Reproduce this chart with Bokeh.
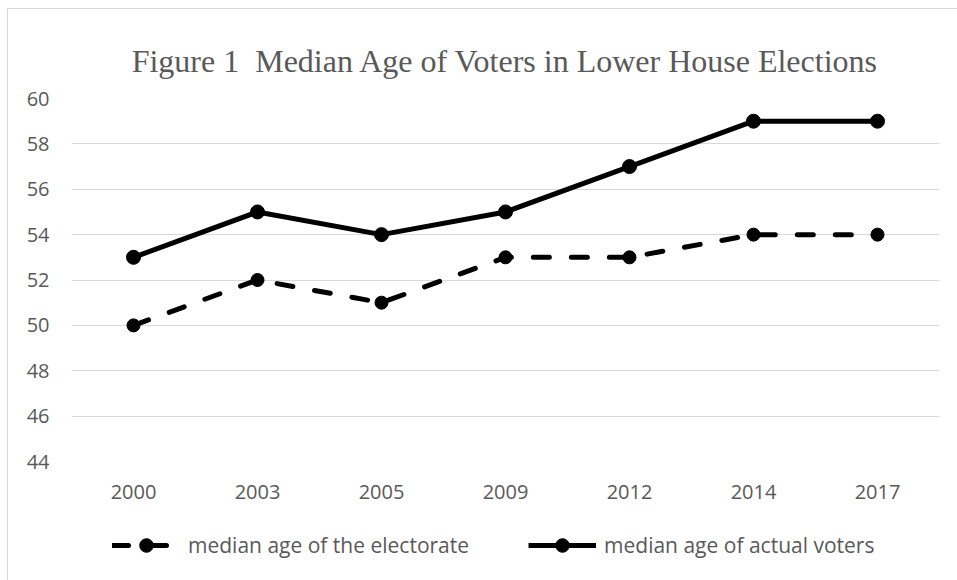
from bokeh.plotting import figure
from bokeh.layouts import column
from bokeh.models import Legend, LegendItem, Title, FactorRange, FixedTicker
from bokeh.embed import file_html
from bokeh.resources import INLINE

years = ["2000", "2003", "2005", "2009", "2012", "2014", "2017"]
electorate = [50, 52, 51, 53, 53, 54, 54]
actual_voters = [53, 55, 54, 55, 57, 59, 59]
y_ticks = [44, 46, 48, 50, 52, 54, 56, 58, 60]
title_text = "Figure 1\u00a0\u00a0Median Age of Voters in Lower House Elections"
labels = ["median age of the electorate", "median age of actual voters"]

TEXT = "#595959"
GRID = "#d9d9d9"

DASHED = dict(line_color="black", line_width=5, line_dash="16 22", line_cap="round", line_join="round")
SOLID = dict(line_color="black", line_width=5, line_join="round")

# ---------------- main chart ----------------
p = figure(
    width=949, height=511,
    x_range=FactorRange(*years, range_padding=0),
    y_range=(44, 60),
    output_backend="svg", toolbar_location=None,
    min_border_left=63, min_border_right=18,
    min_border_top=89, min_border_bottom=59,
)
p.outline_line_color = None
p.xgrid.grid_line_color = None
p.ygrid.grid_line_color = GRID
p.ygrid.grid_line_width = 1

p.yaxis.ticker = FixedTicker(ticks=y_ticks)
for ax in (p.xaxis, p.yaxis):
    ax.axis_line_color = None
    ax.major_tick_line_color = None
    ax.minor_tick_line_color = None
    ax.major_tick_out = 0
    ax.major_tick_in = 0
    ax.major_label_text_font = "Open Sans"
    ax.major_label_text_font_size = "20px"
    ax.major_label_text_color = TEXT
p.yaxis.major_label_standoff = 22
p.xaxis.major_label_standoff = 23

p.line(years, electorate, **DASHED)
p.scatter(years, electorate, marker="circle", size=13, fill_color="black", line_color="black")
p.line(years, actual_voters, **SOLID)
p.scatter(years, actual_voters, marker="circle", size=14, fill_color="black", line_color="black")

p.add_layout(Title(
    text=title_text, align="center", standoff=39,
    text_font="Liberation Serif", text_font_size="32px", text_color=TEXT,
    text_font_style="normal",
), "above")

# ---------------- legend strip ----------------
q = figure(
    width=949, height=60, x_range=(0, 1), y_range=(0, 1),
    output_backend="svg", toolbar_location=None,
    x_axis_location=None, y_axis_location=None,
    min_border=0,
)
q.outline_line_color = None
q.grid.grid_line_color = None
# off-frame stand-ins so the legend can draw the two series' glyphs
off = [5, 6]
l1 = q.line(x=off, y=off, **DASHED)
s1 = q.scatter(x=off, y=off, marker="circle", size=13, fill_color="black", line_color="black")
l2 = q.line(x=off, y=off, **SOLID)
s2 = q.scatter(x=off, y=off, marker="circle", size=14, fill_color="black", line_color="black")

legend = Legend(
    items=[LegendItem(label=labels[0], renderers=[l1, s1]),
           LegendItem(label=labels[1], renderers=[l2, s2])],
    orientation="horizontal", location=(41, 18),
    border_line_alpha=0, background_fill_alpha=0,
    padding=0, margin=0, spacing=59,
    glyph_width=68, glyph_height=34, label_height=34, label_standoff=8,
    label_text_font="Open Sans", label_text_font_size="21px", label_text_color=TEXT,
)
q.add_layout(legend)

layout = column(p, q, spacing=0)
layout.styles = {
    "margin-left": "7px", "margin-top": "8px",
    "border-left": f"1px solid {GRID}", "border-top": f"1px solid {GRID}",
}

open("out.html", "w").write(file_html(layout, INLINE))
